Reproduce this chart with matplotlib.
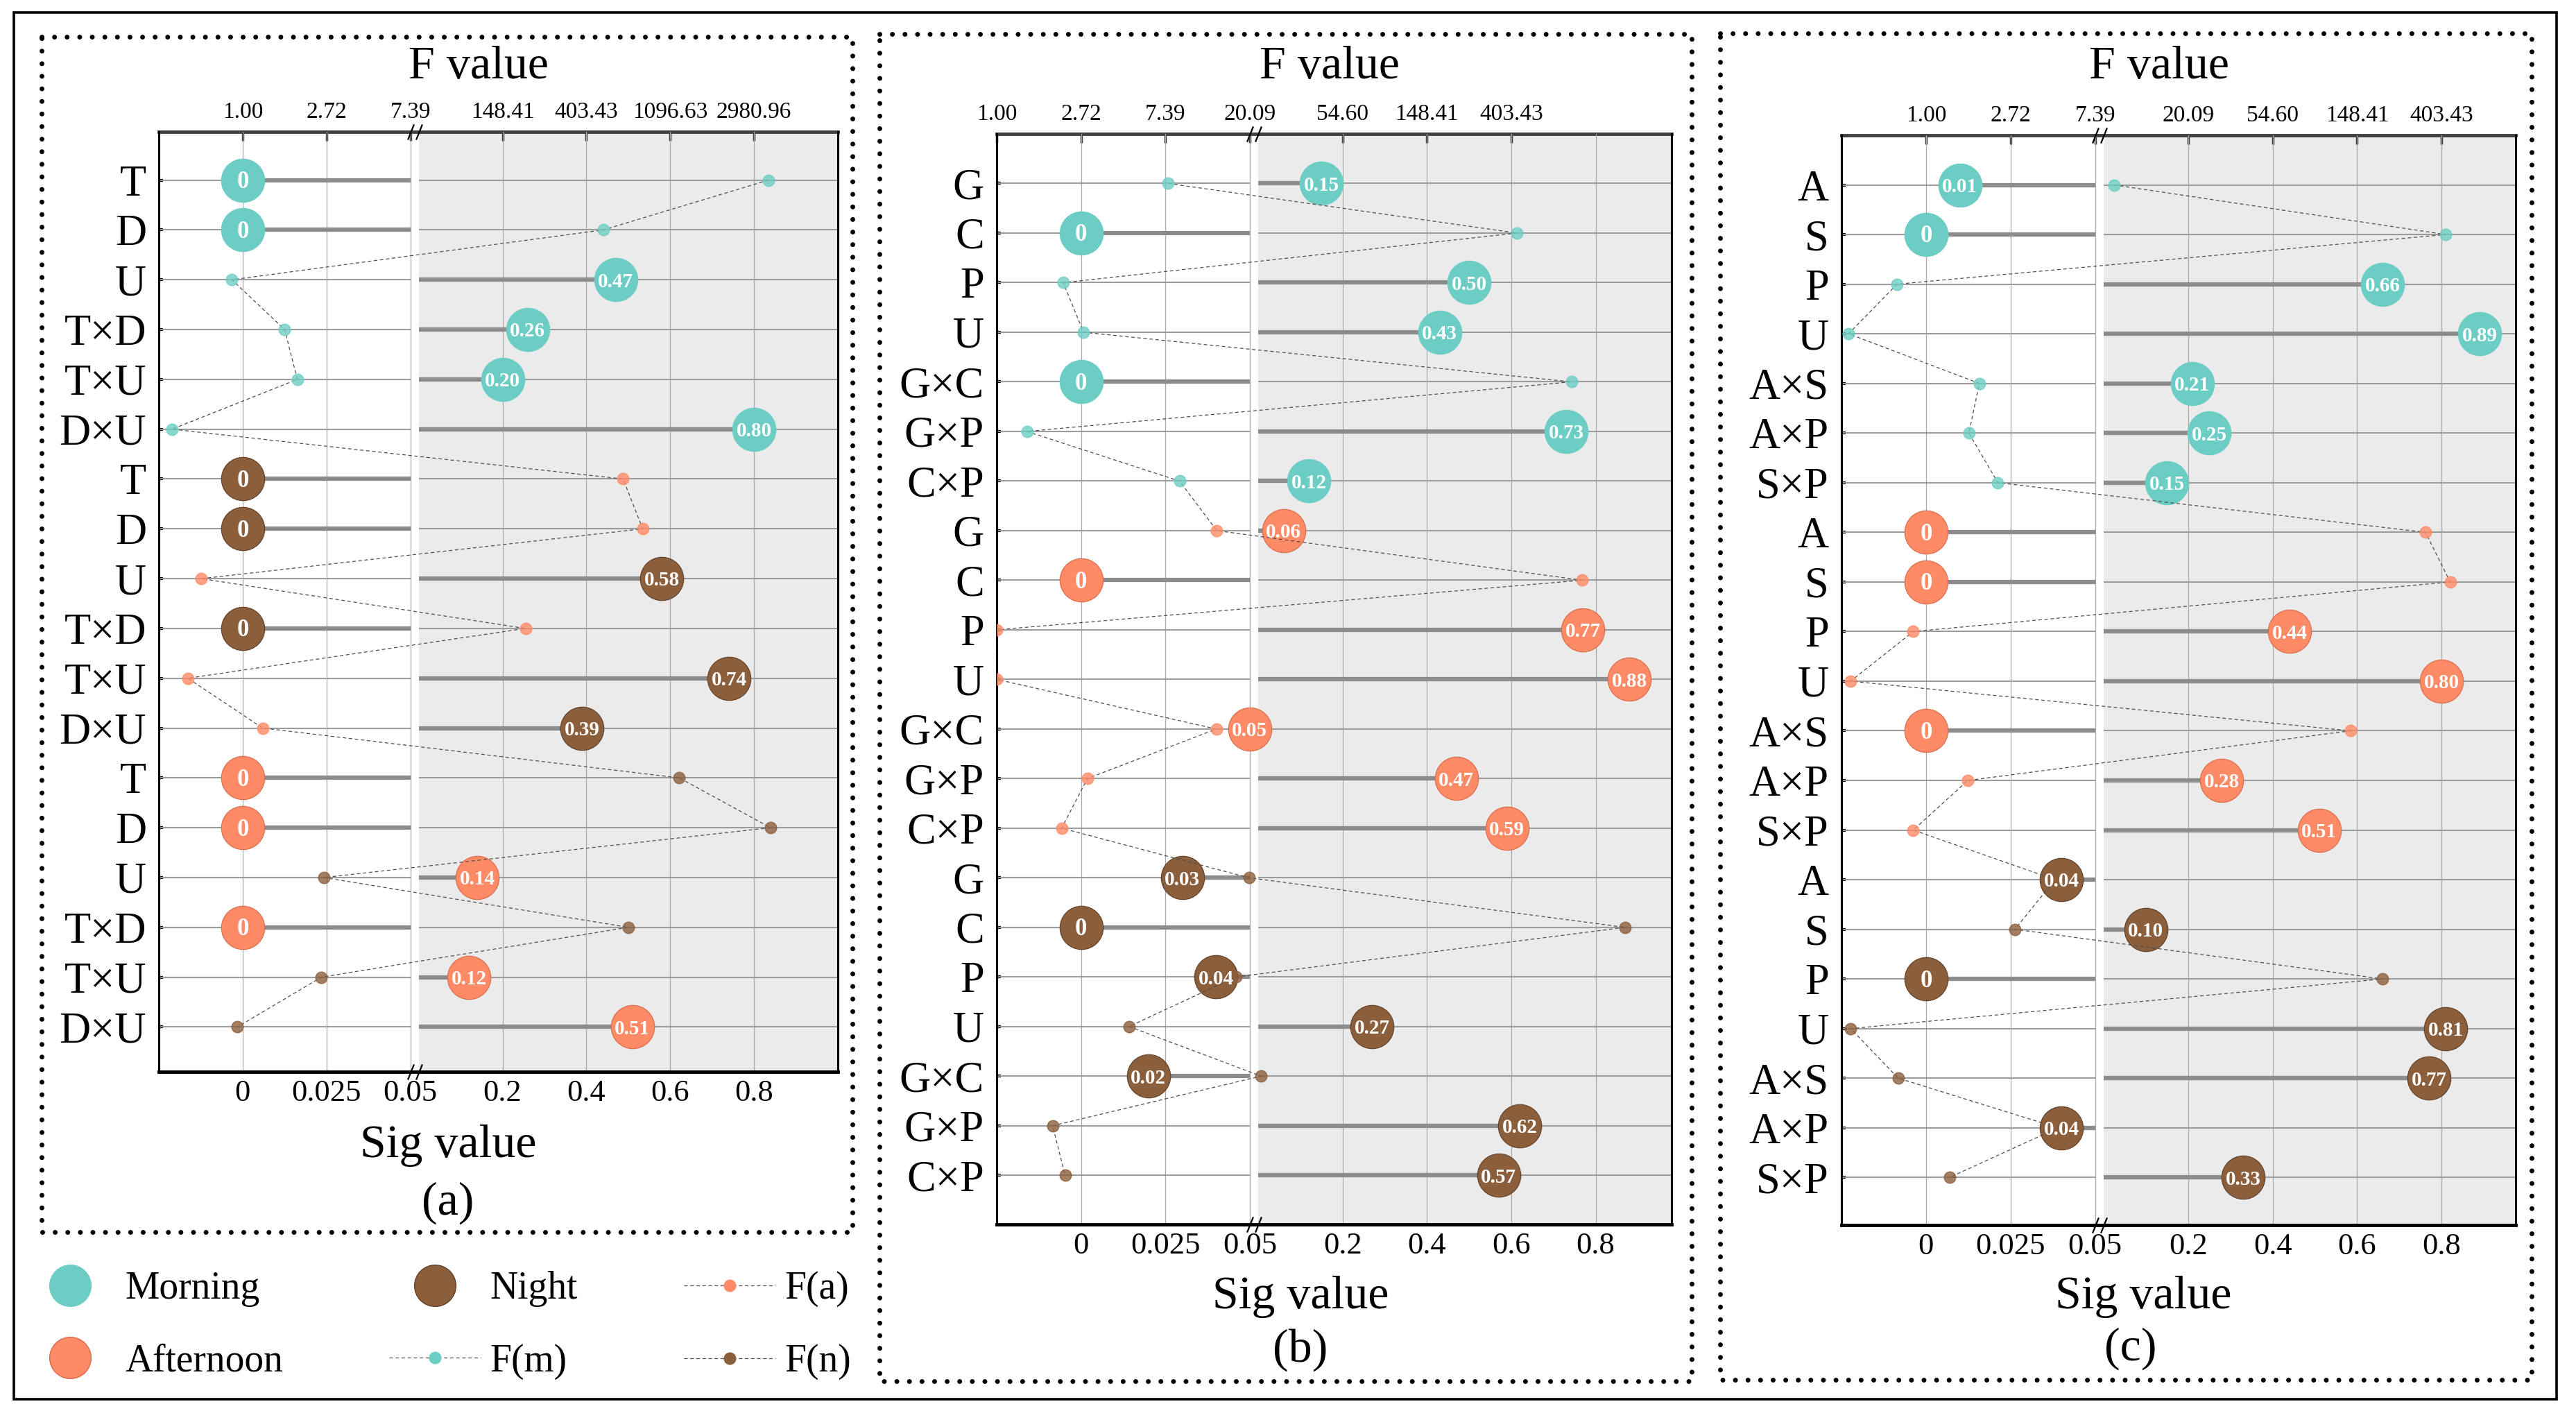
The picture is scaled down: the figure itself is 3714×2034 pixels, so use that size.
import numpy as np
import matplotlib
matplotlib.use("Agg")
import matplotlib.pyplot as plt
from matplotlib.lines import Line2D
from matplotlib.patches import Rectangle

plt.rcParams["font.family"] = ["Liberation Serif", "DejaVu Serif"]

W, H = 3714, 2034
GAP = 0.1

COLORS = {"Morning": "#6CCDC4", "Afternoon": "#FF8A66", "Night": "#8B5E3C"}
EDGES = {"Morning": "#6CCDC4", "Afternoon": "#D9694A", "Night": "#5E3E25"}

SIG_TICKS = [0, 0.025, 0.05, 0.2, 0.4, 0.6, 0.8]
SIG_LABELS = ["0", "0.025", "0.05", "0.2", "0.4", "0.6", "0.8"]

# ---- panel (a)
A_FACTORS = ["T", "D", "U", "T×D", "T×U", "D×U"]
A_BUBBLE_ORDER = ["Morning", "Night", "Afternoon"]
A_DOT_ORDER = ["Morning", "Afternoon", "Night"]
A_SIG = [0, 0, 0.47, 0.26, 0.20, 0.80,
         0, 0, 0.58, 0, 0.74, 0.39,
         0, 0, 0.14, 0, 0.12, 0.51]
A_F = [3540, 493, 0.88, 1.65, 1.92, 0.43,
       625, 790, 0.61, 195, 0.52, 1.27,
       1222, 3630, 2.63, 666, 2.56, 0.94]
A_F_TICKS = [1.00, 2.72, 7.39, 148.41, 403.43, 1096.63, 2980.96]

# ---- panel (b)
B_FACTORS = ["G", "C", "P", "U", "G×C", "G×P", "C×P"]
B_BUBBLE_ORDER = ["Morning", "Afternoon", "Night"]
B_DOT_ORDER = ["Morning", "Afternoon", "Night"]
B_SIG = [0.15, 0, 0.50, 0.43, 0, 0.73, 0.12,
         0.06, 0, 0.77, 0.88, 0.05, 0.47, 0.59,
         0.03, 0, 0.04, 0.27, 0.02, 0.62, 0.57]
B_F = [7.65, 432, 2.2, 2.8, 824, 1.43, 8.73,
       13.6, 934, 1.0, 1.0, 13.5, 2.93, 2.16,
       19.9, 1556, 17.0, 4.8, 20.8, 1.94, 2.25]
B_F_TICKS = [1.00, 2.72, 7.39, 20.09, 54.60, 148.41, 403.43]

# ---- panel (c)
C_FACTORS = ["A", "S", "P", "U", "A×S", "A×P", "S×P"]
C_BUBBLE_ORDER = ["Morning", "Afternoon", "Night"]
C_DOT_ORDER = ["Morning", "Afternoon", "Night"]
C_SIG = [0.01, 0, 0.66, 0.89, 0.21, 0.25, 0.15,
         0, 0, 0.44, 0.80, 0, 0.28, 0.51,
         0.04, 0.10, 0, 0.81, 0.77, 0.04, 0.33]
C_F = [8.35, 423, 0.71, 0.40, 1.88, 1.66, 2.34,
       333, 446, 0.86, 0.41, 137, 1.64, 0.86,
       4.6, 2.86, 201, 0.41, 0.72, 4.77, 1.32]
C_F_TICKS = [1.00, 2.72, 7.39, 20.09, 54.60, 148.41, 403.43]


def sig_to_x(s):
    s = np.asarray(s, float)
    return np.where(s <= 0.05, s / 0.025, 2 + GAP + 5 * s)


def f_to_x(f, left0, right0):
    ln = np.log(np.asarray(f, float))
    return np.where(ln <= left0 + 2.01, ln - left0, 2 + GAP + ln - right0)


def px_rect(x0, y0, x1, y1):
    return [x0 / W, 1 - y1 / H, (x1 - x0) / W, (y1 - y0) / H]


def draw_panel(fig, rect, factors, bubble_order, dot_order, sig, fvals,
               f_ticks, left0, right0, sig_max, y_lo, y_hi):
    ax = fig.add_axes(px_rect(*rect))
    sig = np.asarray(sig, float)
    n = len(sig)
    rows = np.arange(n)
    x_end = float(sig_to_x(sig_max))
    ax.set_xlim(-1, x_end)
    ax.set_ylim(y_hi, y_lo)

    ax.axvspan(2 + GAP, x_end, color="#EBEBEB", lw=0, zorder=0)
    ax.set_xticks(sig_to_x(SIG_TICKS), SIG_LABELS)
    ax.grid(axis="x", color="#A8A8A8", lw=0.9)
    ax.set_axisbelow(True)
    ax.hlines(rows, -1, 2, color="#9C9C9C", lw=1.5, zorder=1)
    ax.hlines(rows, 2 + GAP, x_end, color="#9C9C9C", lw=1.5, zorder=1)

    # lollipop stems start at the axis break
    xb = sig_to_x(sig)
    low = sig <= 0.05
    ax.hlines(rows, np.where(low, xb, 2 + GAP), np.where(low, 2, xb),
              color="#8C8C8C", lw=4.5, zorder=2)

    groups = np.repeat(bubble_order, len(factors))
    for g in bubble_order:
        m = groups == g
        ax.plot(xb[m], rows[m], "o", ms=45, mfc=COLORS[g], mec=EDGES[g],
                mew=0.8, ls="none", zorder=3)

    # F values, one dashed path through all rows
    xf = f_to_x(fvals, left0, right0)
    ax.plot(xf, rows, ls=(0, (4, 3)), color="#4D4D4D", lw=0.9, zorder=4)
    dgroups = np.repeat(dot_order, len(factors))
    for g in dot_order:
        m = dgroups == g
        ax.plot(xf[m], rows[m], "o", ms=12, color=COLORS[g], alpha=0.8,
                ls="none", zorder=5)

    for r, s, x in zip(rows, sig, xb):
        txt = "0" if s == 0 else f"{s:.2f}"
        ax.text(x, r + 0.04, txt, color="white", fontweight="bold",
                fontsize=25 if s == 0 else 21, ha="center", va="center",
                zorder=6)

    ax.set_yticks(rows, list(factors) * 3)
    ax.tick_params(axis="y", direction="in", length=4, width=3,
                   labelsize=45, pad=13)
    ax.tick_params(axis="x", length=0, labelsize=32, pad=8)
    ax.spines["top"].set_visible(False)
    ax.spines["left"].set_linewidth(2.2)
    ax.spines["right"].set_linewidth(2.2)
    ax.spines["bottom"].set_linewidth(3.5)

    top = ax.secondary_xaxis("top")
    top.set_xticks(f_to_x(f_ticks, left0, right0),
                   [f"{v:.2f}" for v in f_ticks])
    top.tick_params(direction="in", length=9, width=2.5, color="#333333",
                    labelsize=24, pad=9)
    top.spines["top"].set_color("#404040")
    top.spines["top"].set_linewidth(3.5)

    # break marks
    xm = 2 + GAP / 2
    for yv in (0, 1):
        ax.plot([xm - 0.05, xm + 0.05], [yv, yv],
                transform=ax.get_xaxis_transform(), ls="none",
                marker=[(-0.4, -1), (0.4, 1)], ms=16, mew=1.6,
                mec="black", clip_on=False, zorder=7)
    return ax


fig = plt.figure(figsize=(W / 100, H / 100), dpi=100)

bg = fig.add_axes([0, 0, 1, 1], zorder=-1)
bg.set_xlim(0, W)
bg.set_ylim(H, 0)
bg.axis("off")
bg.add_patch(Rectangle((20, 18), 3666, 1999, fill=False, lw=2.6,
                       ec="black"))
for x0, y0, x1, y1 in [(60, 53, 1229, 1776), (1268, 49, 2439, 1991),
                       (2480, 48, 3650, 1989)]:
    bg.plot([x0, x1, x1, x0, x0], [y0, y0, y1, y1, y0], color="black",
            lw=5, ls=(0, (0.01, 2.6)), dash_capstyle="round")

draw_panel(fig, (229, 190, 1208, 1545), A_FACTORS, A_BUBBLE_ORDER,
           A_DOT_ORDER, A_SIG, A_F, A_F_TICKS, 0, 4, 1.0, -0.97, 17.9)
draw_panel(fig, (1437, 193, 2410, 1765), B_FACTORS, B_BUBBLE_ORDER,
           B_DOT_ORDER, B_SIG, B_F, B_F_TICKS, 1, 3, 0.98, -1.0, 20.99)
draw_panel(fig, (2655, 195, 3627, 1766), C_FACTORS, C_BUBBLE_ORDER,
           C_DOT_ORDER, C_SIG, C_F, C_F_TICKS, 0, 2, 0.975, -1.0, 20.96)

for x, y, s in [(690, 96, "F value"), (1917, 96, "F value"),
                (3113, 96, "F value"),
                (646, 1651, "Sig value"), (1875, 1869, "Sig value"),
                (3090, 1869, "Sig value")]:
    fig.text(x / W, 1 - y / H, s, fontsize=49, ha="center", va="center")
for x, y, s in [(646, 1734, "(a)"), (1875, 1946, "(b)"),
                (3072, 1944, "(c)")]:
    fig.text(x / W, 1 - y / H, s, fontsize=49, ha="center", va="center")

handles = [
    Line2D([], [], marker="o", ls="none", ms=43, mfc=COLORS["Morning"],
           mec=EDGES["Morning"]),
    Line2D([], [], marker="o", ls="none", ms=43, mfc=COLORS["Afternoon"],
           mec=EDGES["Afternoon"]),
    Line2D([], [], marker="o", ls="none", ms=43, mfc=COLORS["Night"],
           mec=EDGES["Night"]),
    Line2D([], [], marker="o", ls=(0, (4, 3)), lw=0.9, color="#4D4D4D",
           ms=12, mfc=COLORS["Morning"], mec=COLORS["Morning"]),
    Line2D([], [], marker="o", ls=(0, (4, 3)), lw=0.9, color="#4D4D4D",
           ms=12, mfc=COLORS["Afternoon"], mec=COLORS["Afternoon"]),
    Line2D([], [], marker="o", ls=(0, (4, 3)), lw=0.9, color="#4D4D4D",
           ms=12, mfc=COLORS["Night"], mec=COLORS["Night"]),
]
labels = ["Morning", "Afternoon", "Night", "F(m)", "F(a)", "F(n)"]
fig.legend(handles, labels, ncol=3, loc="upper left",
           bbox_to_anchor=(35 / W, 1 - 1832 / H), frameon=False,
           fontsize=40, handlelength=2.37, handletextpad=0.25,
           columnspacing=2.75, labelspacing=0.95, borderpad=0,
           borderaxespad=0)

fig.savefig("out.png", dpi=100)
